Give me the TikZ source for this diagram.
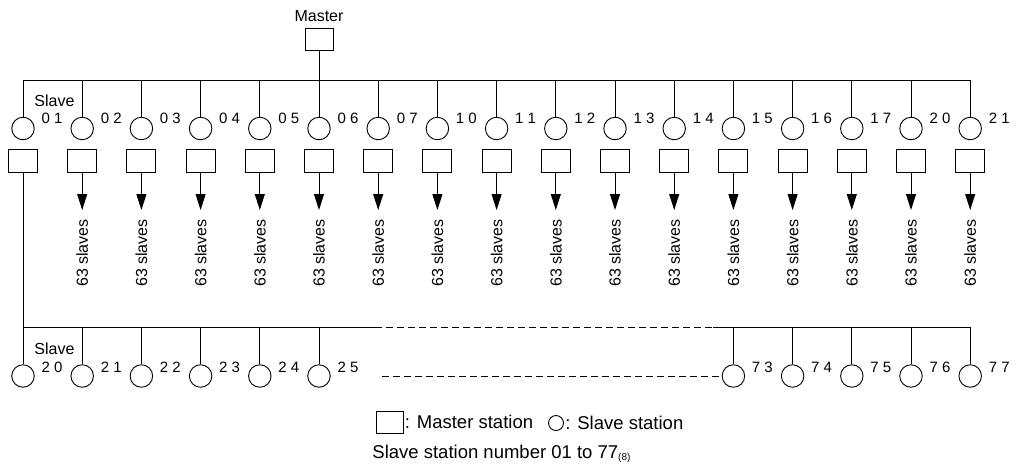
\documentclass[tikz,border=0pt]{standalone}
\usepackage{fontspec}
\setmainfont{Liberation Sans}
\usetikzlibrary{arrows.meta,positioning}
\tikzset {
    station/.style={draw, minimum width=29pt, minimum height=23pt,
        inner sep=0pt},
    slave/.style={draw, circle, minimum size=22.5pt, inner sep=0pt},
    stnum/.style={inner sep=0pt, font=\fontsize{15}{15}\selectfont},
    caption/.style={inner sep=1pt, font=\fontsize{16}{16}\selectfont},
    legendtext/.style={inner sep=1pt, font=\fontsize{18.5}{18.5}\selectfont},
    skipline/.style={dash pattern=on 7pt off 4pt},
    >={Triangle[width=10pt, length=16pt]},
    every path/.style={line width=0.9pt}
}

\begin{document}
\begin{tikzpicture}[x=1pt, y=-1pt]
        \useasboundingbox (0,0) rectangle (1019,469);

        \node[caption] (masterLabel) at (319,16) {Master};
        \node[station, minimum width=28pt, minimum height=22pt] (master) at (319,39) {};

        \coordinate (busLeft) at (23,80);
        \coordinate (busRight) at (970,80);
        \coordinate (busTap) at (319,80);
        \draw (busLeft) -- (busRight);
        \draw (master.south) -- (busTap);

        \node[caption] (slaveLabelTop) at (54.5,101) {Slave};
        \node[caption] (slaveLabelBot) at (54.5,349) {Slave};

        % first line: 17 slave stations, each a master of its own line
        \foreach \lab [count=\i from 0] in {0 1,0 2,0 3,0 4,0 5,0 6,0 7,1 0,1 1,1 2,1 3,1 4,1 5,1 6,1 7,2 0,2 1} {
            \pgfmathsetmacro{\x}{23+59.2*\i}
            \coordinate (tapTop\i) at (\x,80);
            \node[slave] (slaveTop\i) at (\x,128.5) {};
            \node[station] (subMaster\i) at (\x,160.5) {};
            \node[stnum] (numTop\i) at (\x+29,118.5) {\lab};
            \draw (tapTop\i) -- (slaveTop\i.north);
        }
        \foreach \i in {1,...,16} {
            \pgfmathsetmacro{\x}{23+59.2*\i}
            \coordinate (tip\i) at (\x,210);
            \draw[->] (subMaster\i.south) -- (tip\i);
            \node[caption, rotate=90] (count\i) at (\x,253) {63 slaves};
        }

        % second line below station 01
        \foreach \lab [count=\i from 0] in {2 0,2 1,2 2,2 3,2 4,2 5} {
            \pgfmathsetmacro{\x}{23+59.2*\i}
            \coordinate (tapBot\i) at (\x,327);
            \node[slave] (slaveBot\i) at (\x,376) {};
            \node[stnum] (numBot\i) at (\x+29,367.5) {\lab};
            \draw (tapBot\i) -- (slaveBot\i.north);
        }
        \foreach \lab [count=\i from 12] in {7 3,7 4,7 5,7 6,7 7} {
            \pgfmathsetmacro{\x}{23+59.2*\i}
            \coordinate (tapBot\i) at (\x,327);
            \node[slave] (slaveBot\i) at (\x,376) {};
            \node[stnum] (numBot\i) at (\x+29,367.5) {\lab};
            \draw (tapBot\i) -- (slaveBot\i.north);
        }

        \draw (subMaster0.south) -- (slaveBot0.north);

        \coordinate (dashStart) at (375,327);
        \coordinate (dashEnd) at (713,327);
        \coordinate (rowGap) at (382,376);
        \draw (tapBot0) -- (dashStart);
        \draw[skipline] (dashStart) -- (dashEnd);
        \draw (dashEnd) -- (tapBot16);
        \draw[skipline] (rowGap) -- (slaveBot12.west);

        % legend
        \node[station, minimum width=27pt, minimum height=22pt] (legendBox) at (389.5,422) {};
        \node[legendtext, anchor=west] (legendBoxText) at (legendBox.east) {: Master station};
        \node[slave, minimum size=15pt] (legendSlave) at (556,423) {};
        \node[legendtext, anchor=west] (legendSlaveText) at (legendSlave.east) {: Slave station};
        \node[legendtext, anchor=west] (note) at (371,454)
            {Slave station number 01 to 77\raisebox{-2pt}{\fontsize{10}{10}\selectfont(8)}};

    \end{tikzpicture}
\end{document}
